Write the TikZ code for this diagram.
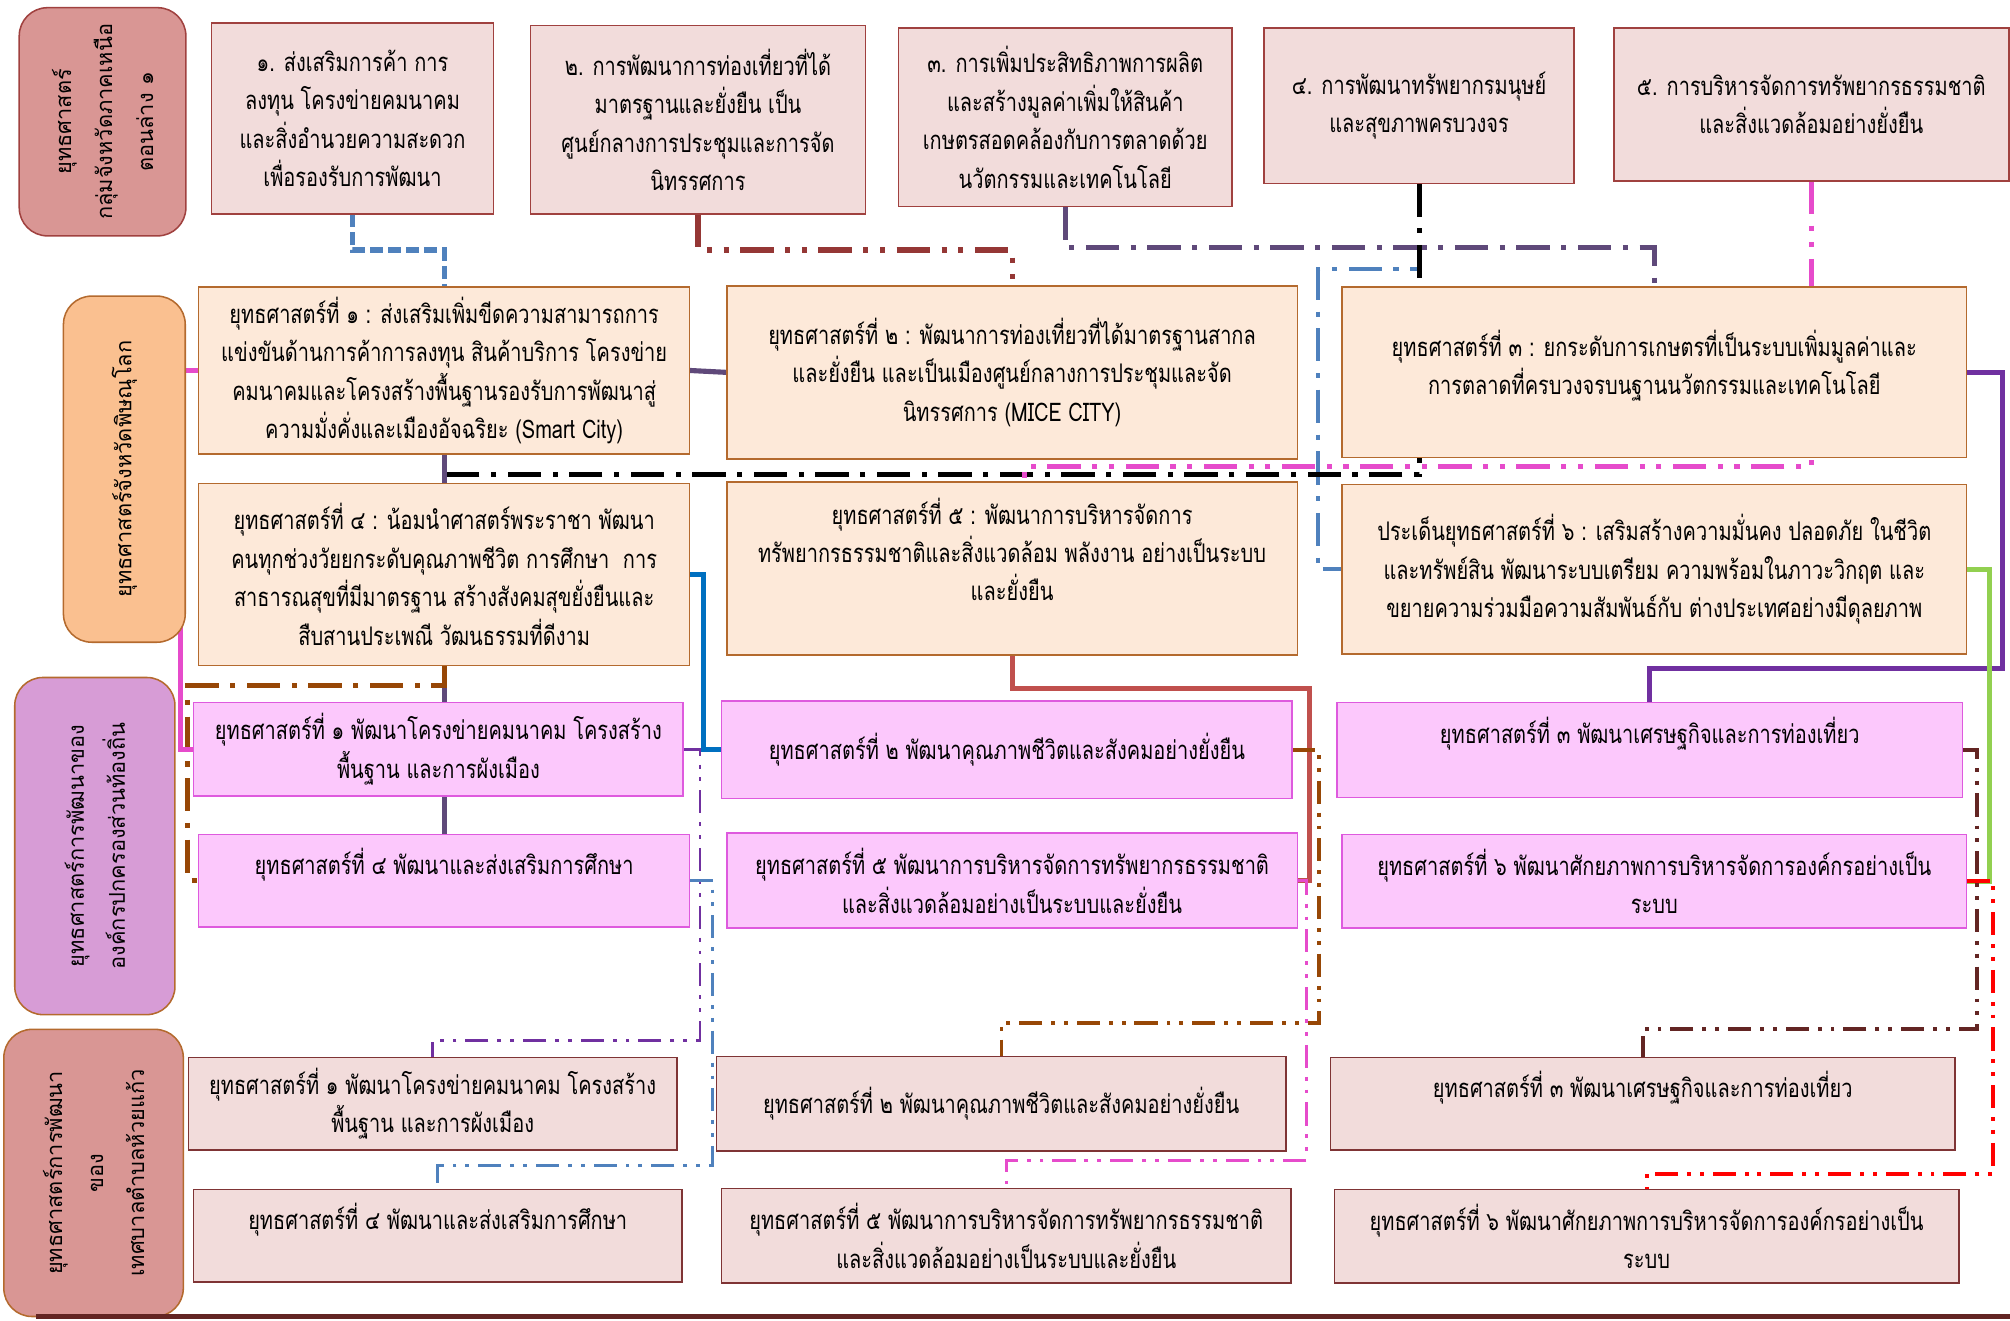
\documentclass[tikz,border=0pt]{standalone}
\usepackage{fontspec}
\newfontfamily\thaibox[Script=Thai,FakeStretch=0.78]{Loma}
\newfontfamily\thailab[Script=Thai]{Loma}
\usetikzlibrary{backgrounds}

\definecolor{topfill}{HTML}{F2DCDB}
\definecolor{topline}{HTML}{A0413F}
\definecolor{provfill}{HTML}{FDE9D9}
\definecolor{provline}{HTML}{B46A2E}
\definecolor{locfill}{HTML}{FCC8FC}
\definecolor{locline}{HTML}{DE5ADE}
\definecolor{munline}{HTML}{7F3435}
\definecolor{labred}{HTML}{D99694}
\definecolor{laborange}{HTML}{FAC090}
\definecolor{labpurple}{HTML}{D79CD6}
\definecolor{cblue}{HTML}{4F81BD}
\definecolor{cblue2}{HTML}{0070C0}
\definecolor{cred}{HTML}{953735}
\definecolor{cred2}{HTML}{C0504D}
\definecolor{cpurple}{HTML}{5F497A}
\definecolor{cpurple2}{HTML}{7030A0}
\definecolor{cpink}{HTML}{E64BCB}
\definecolor{cgreen}{HTML}{92D050}
\definecolor{cbrown}{HTML}{974706}
\definecolor{cdark}{HTML}{632523}

\tikzset{
  box/.style={rectangle, anchor=north west, outer sep=0pt, inner sep=2pt,
    line width=1.2pt, align=center, font=\thaibox\fontsize{20}{30}\selectfont},
  wh/.style 2 args={minimum width=#1pt, minimum height=#2pt},
  topbox/.style={box, draw=topline, fill=topfill},
  provbox/.style={box, draw=provline, fill=provfill},
  locbox/.style={box, draw=locline, fill=locfill},
  munbox/.style={box, draw=munline, fill=topfill},
  lab/.style={rectangle, rounded corners=22pt, rotate=90, outer sep=0pt,
    line width=1.2pt, align=center, font=\thailab\fontsize{17}{32}\selectfont},
  link/.style={line width=4pt},
  thin link/.style={line width=2.5pt},
  dashdot/.style={dash pattern=on 26pt off 9pt on 4pt off 9pt},
  dashdotdot/.style={dash pattern=on 26pt off 9pt on 4pt off 9pt on 4pt off 9pt},
  smalldots/.style={dash pattern=on 18pt off 7pt on 3pt off 7pt on 3pt off 7pt}
}

\begin{document}
\begin{tikzpicture}[x=1pt, y=-1pt]
  \useasboundingbox (0,0) rectangle (1568,1030);

  %% group of provinces
  \node[lab, draw=topline, fill=labred, wh={178}{130}] (la) at (80,95)
  {ยุทธศาสตร์\\กลุ่มจังหวัดภาคเหนือ\\ตอนล่าง ๑};
  \node[topbox, wh={220}{149}] (g1) at (165,18)
  {๑. ส่งเสริมการค้า การ\\ลงทุน โครงข่ายคมนาคม\\และสิ่งอำนวยความสะดวก\\เพื่อรองรับการพัฒนา};
  \node[topbox, wh={261}{147}] (g2) at (414,20)
  {๒. การพัฒนาการท่องเที่ยวที่ได้\\มาตรฐานและยั่งยืน เป็น\\ศูนย์กลางการประชุมและการจัด\\นิทรรศการ};
  \node[topbox, wh={260}{139}] (g3) at (701,22)
  {๓. การเพิ่มประสิทธิภาพการผลิต\\และสร้างมูลค่าเพิ่มให้สินค้า\\เกษตรสอดคล้องกับการตลาดด้วย\\นวัตกรรมและเทคโนโลยี};
  \node[topbox, wh={242}{121}] (g4) at (986,22)
  {๔. การพัฒนาทรัพยากรมนุษย์\\และสุขภาพครบวงจร};
  \node[topbox, wh={308}{119}] (g5) at (1259,22)
  {๕. การบริหารจัดการทรัพยากรธรรมชาติ\\และสิ่งแวดล้อมอย่างยั่งยืน};

  %% province
  \node[lab, draw=provline, fill=laborange, wh={270}{95}] (lb) at (97,366)
  {ยุทธศาสตร์จังหวัดพิษณุโลก};
  \node[provbox, wh={383}{130}] (p1) at (155,224)
  {ยุทธศาสตร์ที่ ๑ : ส่งเสริมเพิ่มขีดความสามารถการ\\แข่งขันด้านการค้าการลงทุน สินค้าบริการ โครงข่าย\\คมนาคมและโครงสร้างพื้นฐานรองรับการพัฒนาสู่\\ความมั่งคั่งและเมืองอัจฉริยะ (Smart City)};
  \node[provbox, wh={445}{135}] (p2) at (567,223)
  {ยุทธศาสตร์ที่ ๒ : พัฒนาการท่องเที่ยวที่ได้มาตรฐานสากล\\และยั่งยืน และเป็นเมืองศูนย์กลางการประชุมและจัด\\นิทรรศการ (MICE CITY)};
  \node[provbox, wh={487}{133}] (p3) at (1047,224)
  {ยุทธศาสตร์ที่ ๓ : ยกระดับการเกษตรที่เป็นระบบเพิ่มมูลค่าและ\\การตลาดที่ครบวงจรบนฐานนวัตกรรมและเทคโนโลยี\\[-14pt]~};
  \node[provbox, wh={383}{142}] (p4) at (155,377)
  {ยุทธศาสตร์ที่ ๔ : น้อมนำศาสตร์พระราชา พัฒนา\\คนทุกช่วงวัยยกระดับคุณภาพชีวิต การศึกษา~ การ\\สาธารณสุขที่มีมาตรฐาน สร้างสังคมสุขยั่งยืนและ\\สืบสานประเพณี วัฒนธรรมที่ดีงาม};
  \node[provbox, wh={445}{135}] (p5) at (567,376)
  {ยุทธศาสตร์ที่ ๕ : พัฒนาการบริหารจัดการ\\ทรัพยากรธรรมชาติและสิ่งแวดล้อม พลังงาน อย่างเป็นระบบ\\และยั่งยืน\\};
  \node[provbox, wh={487}{132}] (p6) at (1047,378)
  {ประเด็นยุทธศาสตร์ที่ ๖ : เสริมสร้างความมั่นคง ปลอดภัย ในชีวิต\\และทรัพย์สิน พัฒนาระบบเตรียม ความพร้อมในภาวะวิกฤต และ\\ขยายความร่วมมือความสัมพันธ์กับ ต่างประเทศอย่างมีดุลยภาพ};

  %% local government
  \node[lab, draw=provline, fill=labpurple, wh={263}{125}] (lc) at (74,660)
  {ยุทธศาสตร์การพัฒนาของ\\องค์กรปกครองส่วนท้องถิ่น};
  \node[locbox, wh={382}{73}] (l1) at (151,548)
  {ยุทธศาสตร์ที่ ๑ พัฒนาโครงข่ายคมนาคม โครงสร้าง\\พื้นฐาน และการผังเมือง};
  \node[locbox, wh={445}{76}] (l2) at (563,547)
  {ยุทธศาสตร์ที่ ๒ พัฒนาคุณภาพชีวิตและสังคมอย่างยั่งยืน};
  \node[locbox, wh={488}{74}] (l3) at (1043,548)
  {ยุทธศาสตร์ที่ ๓ พัฒนาเศรษฐกิจและการท่องเที่ยว\\~};
  \node[locbox, wh={383}{72}] (l4) at (155,651)
  {ยุทธศาสตร์ที่ ๔ พัฒนาและส่งเสริมการศึกษา\\~};
  \node[locbox, wh={445}{74}] (l5) at (567,650)
  {ยุทธศาสตร์ที่ ๕ พัฒนาการบริหารจัดการทรัพยากรธรรมชาติ\\และสิ่งแวดล้อมอย่างเป็นระบบและยั่งยืน};
  \node[locbox, wh={487}{73}] (l6) at (1047,651)
  {ยุทธศาสตร์ที่ ๖ พัฒนาศักยภาพการบริหารจัดการองค์กรอย่างเป็น\\ระบบ};

  %% municipality
  \node[lab, draw=provline, fill=labred, wh={224}{140}] (ld) at (73,915)
  {ยุทธศาสตร์การพัฒนา\\ของ\\เทศบาลตำบลห้วยแก้ว};
  \node[munbox, wh={381}{72}] (m1) at (147,825)
  {ยุทธศาสตร์ที่ ๑ พัฒนาโครงข่ายคมนาคม โครงสร้าง\\พื้นฐาน และการผังเมือง};
  \node[munbox, wh={444}{74}] (m2) at (559,824)
  {ยุทธศาสตร์ที่ ๒ พัฒนาคุณภาพชีวิตและสังคมอย่างยั่งยืน};
  \node[munbox, wh={487}{72}] (m3) at (1038,825)
  {ยุทธศาสตร์ที่ ๓ พัฒนาเศรษฐกิจและการท่องเที่ยว\\~};
  \node[munbox, wh={381}{72}] (m4) at (151,928)
  {ยุทธศาสตร์ที่ ๔ พัฒนาและส่งเสริมการศึกษา\\~};
  \node[munbox, wh={444}{74}] (m5) at (563,927)
  {ยุทธศาสตร์ที่ ๕ พัฒนาการบริหารจัดการทรัพยากรธรรมชาติ\\และสิ่งแวดล้อมอย่างเป็นระบบและยั่งยืน};
  \node[munbox, wh={487}{73}] (m6) at (1041,928)
  {ยุทธศาสตร์ที่ ๖ พัฒนาศักยภาพการบริหารจัดการองค์กรอย่างเป็น\\ระบบ};

  \draw[cdark, line width=4pt] (28,1027) -- (1568,1027);

  \begin{scope}[on background layer]
  %% group -> province
  \draw[link, cblue, dash pattern=on 10pt off 4pt] (g1.south) -- ++(0,28) -| (p1.north);
  \draw[link, cred, dashdotdot] (g2.south) -- ++(0,28) -| (p2.north);
  \draw[link, cpurple, dashdot] (g3.south) -- ++(0,32) -| (p3.north);
  \draw[link, cblue, line width=3pt, dashdot] (g4.south) -- ++(0,67) -- ++(-79,0) |- (p6.west);
  \draw[link, black, dashdot] (g4.south) -- ++(0,227) -| (p4.north);
  \draw[link, cpink, dashdotdot] (g5.south) -- ++(0,223) -| ([xshift=10pt]p5.north);

  %% province -> local
  \draw[link, cpurple] (p1.east) -- (p2.west);
  \draw[link, cpurple] (p1.south) -- (l4.north);
  \draw[link, cbrown, dashdot] (p4.south) -- ++(0,16) -- ++(-200,0) |- (l4.west);
  \draw[link, cpink] (p1.west) -- ++(-14,0) |- (l1.west);
  \draw[link, cblue2] (p4.east) -- ++(11,0) |- (l2.west);
  \draw[link, cred2] (p5.south) -- ++(0,26) -- ++(232,0) |- (l5.east);
  \draw[link, cpurple2] (p3.east) -- ++(28,0) -- ++(0,231) -| (l3.north);
  \draw[link, cgreen] (p6.east) -- ++(18,0) |- (l6.east);

  %% local -> municipality
  \draw[thin link, cpurple2, line width=2pt, smalldots] (l1.east) -- ++(13,0) -- ++(0,227) -| (m1.north);
  \draw[thin link, cblue, smalldots] (l4.east) -- ++(18,0) -- ++(0,222) -| (m4.north);
  \draw[thin link, cbrown, smalldots] (l2.east) -- ++(21,0) -- ++(0,213) -| (m2.north);
  \draw[thin link, cpink, smalldots] (l5.east) -- ++(7,0) -- ++(0,218) -| (m5.north);
  \draw[thin link, cdark, line width=3pt, smalldots] (l3.east) -- ++(11,0) -- ++(0,218) -| (m3.north);
  \draw[thin link, red, line width=3pt, smalldots] (l6.east) -- ++(21,0) -- ++(0,228) -| (m6.north);
  \end{scope}

\end{tikzpicture}
\end{document}
